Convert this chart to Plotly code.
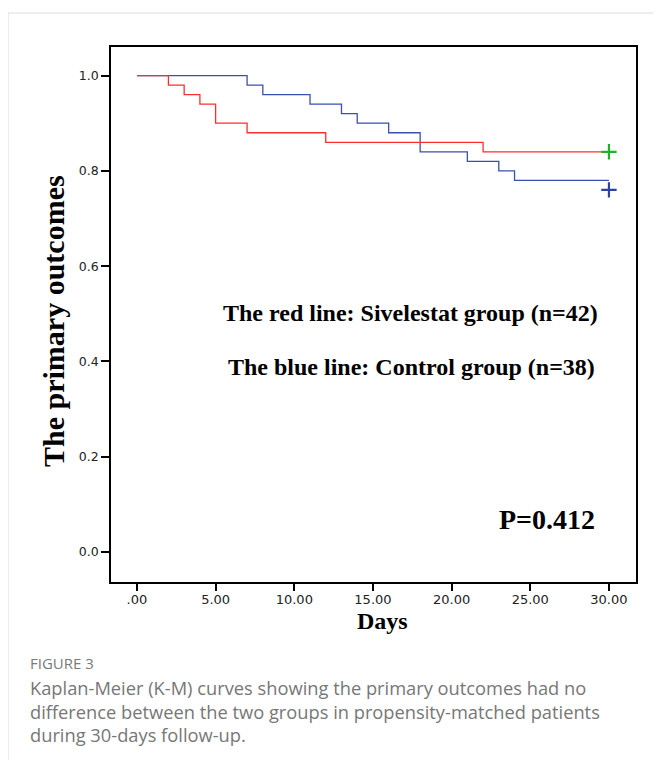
import plotly.graph_objects as go

# Data
red_days = [0, 2, 3, 4, 5, 7, 12, 22, 30]
red_surv = [1.0, 0.98, 0.96, 0.94, 0.90, 0.88, 0.86, 0.84, 0.84]
blue_days = [0, 7, 8, 11, 13, 14, 16, 18, 21, 23, 24, 30]
blue_surv = [1.0, 0.98, 0.96, 0.94, 0.92, 0.90, 0.88, 0.84, 0.82, 0.80, 0.78, 0.78]
red_censor_day = [30]
red_censor_val = [0.84]
blue_censor_day = [30]
blue_censor_val = [0.76]

x_ticks = [0, 5, 10, 15, 20, 25, 30]
x_ticklabels = [".00", "5.00", "10.00", "15.00", "20.00", "25.00", "30.00"]
y_ticks = [0.0, 0.2, 0.4, 0.6, 0.8, 1.0]
y_ticklabels = ["0.0", "0.2", "0.4", "0.6", "0.8", "1.0"]

caption_title = "FIGURE 3"
caption_lines = [
    "Kaplan-Meier (K-M) curves showing the primary outcomes had no",
    "difference between the two groups in propensity-matched patients",
    "during 30-days follow-up.",
]

# page has an 8px body margin; work in page pixels and convert
OFF = 8
W, H = 661 - OFF, 760 - OFF
FL, FR, FT, FB = 111, 636, 47, 582  # frame edges in page pixels
L = FL - OFF
T = FT - OFF
R = W - (FR - OFF)
B = H - (FB - OFF)
PW = FR - FL
PH = FB - FT


def px(xp):
    return (xp - FL) / PW


def py(yp):
    return (FB - yp) / PH


fig = go.Figure()
fig.add_trace(go.Scatter(x=blue_days, y=blue_surv, mode="lines", line_shape="hv",
                         line=dict(color="#3a4fb0", width=1.3), showlegend=False))
fig.add_trace(go.Scatter(x=red_days, y=red_surv, mode="lines", line_shape="hv",
                         line=dict(color="#ff2e2e", width=1.3), showlegend=False))
fig.add_trace(go.Scatter(x=red_censor_day, y=red_censor_val, mode="markers",
                         marker=dict(symbol="cross-thin", size=11,
                                     line=dict(color="#22b02a", width=2.2)),
                         showlegend=False))
fig.add_trace(go.Scatter(x=blue_censor_day, y=blue_censor_val, mode="markers",
                         marker=dict(symbol="cross-thin", size=11,
                                     line=dict(color="#2a43a0", width=2.2)),
                         showlegend=False))

serif = "Liberation Serif, Times New Roman, serif"
sans = "DejaVu Sans, sans-serif"

fig.update_layout(
    width=W, height=H,
    margin=dict(l=L, r=R, t=T, b=B, pad=0),
    paper_bgcolor="white", plot_bgcolor="white",
    xaxis=dict(range=[-1.65, 31.72], tickmode="array", tickvals=x_ticks,
               ticktext=x_ticklabels, ticks="outside", ticklen=7, tickwidth=1.5,
               tickcolor="black", showline=True, linecolor="black", linewidth=1.5,
               mirror=True, showgrid=False, zeroline=False, ticklabelstandoff=-2,
               tickfont=dict(family=sans, size=13, color="#222")),
    yaxis=dict(range=[-0.063, 1.060], tickmode="array", tickvals=y_ticks,
               ticktext=y_ticklabels, ticks="outside", ticklen=8, tickwidth=1.5,
               tickcolor="black", showline=True, linecolor="black", linewidth=1.5,
               mirror=True, showgrid=False, zeroline=False,
               tickfont=dict(family=sans, size=12.5, color="#222")),
)

ann = []
ann.append(dict(x=17.36, y=0.502, xref="x", yref="y", text="<b>The red line: Sivelestat group (n=42)</b>",
                showarrow=False, font=dict(family=serif, size=24, color="black"),
                xanchor="center", yanchor="middle"))
ann.append(dict(x=17.42, y=0.388, xref="x", yref="y", text="<b>The blue line: Control group (n=38)</b>",
                showarrow=False, font=dict(family=serif, size=24, color="black"),
                xanchor="center", yanchor="middle"))
ann.append(dict(x=26.06, y=0.069, xref="x", yref="y", text="<b>P=0.412</b>",
                showarrow=False, font=dict(family=serif, size=28, color="black"),
                xanchor="center", yanchor="middle"))
ann.append(dict(x=px(54), y=py(321), xref="paper", yref="paper", text="<b>The primary outcomes</b>",
                showarrow=False, textangle=-90, font=dict(family=serif, size=30, color="black"),
                xanchor="center", yanchor="middle"))
ann.append(dict(x=px(382), y=py(621), xref="paper", yref="paper", text="<b>Days</b>",
                showarrow=False, font=dict(family=serif, size=24, color="black"),
                xanchor="center", yanchor="middle"))
ann.append(dict(x=px(28), y=py(663), xref="paper", yref="paper", text=caption_title,
                showarrow=False, font=dict(family="Open Sans, sans-serif", size=15, color="#7a7a7a"),
                xanchor="left", yanchor="middle"))
for i, line in enumerate(caption_lines):
    ann.append(dict(x=px(28), y=py(687 + 24 * i), xref="paper", yref="paper", text=line,
                    showarrow=False, font=dict(family="Open Sans, sans-serif", size=18.3, color="#777777"),
                    xanchor="left", yanchor="middle"))
fig.update_layout(annotations=ann)

fig.add_shape(type="rect", xref="paper", yref="paper",
              x0=px(8), x1=px(700), y0=py(800), y1=py(13),
              line=dict(color="#dcdcdc", width=1), fillcolor="rgba(0,0,0,0)", layer="below")

fig.write_html("out.html")
